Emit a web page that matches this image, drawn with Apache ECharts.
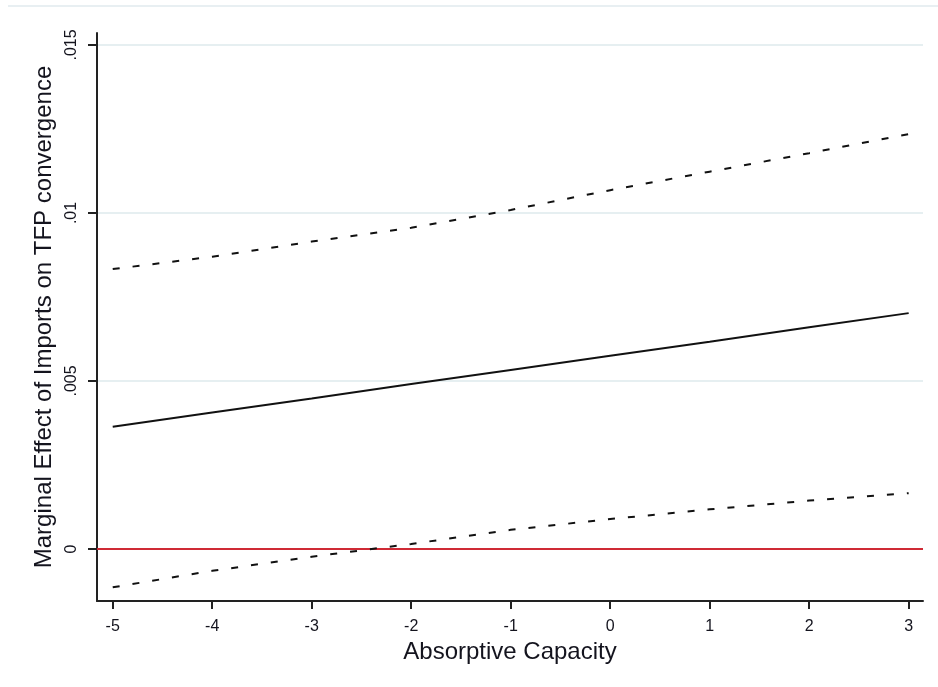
<!DOCTYPE html>
<html>
<head>
<meta charset="utf-8">
<script src="https://cdn.jsdelivr.net/npm/echarts@6.0.0/dist/echarts.min.js"></script>
<style>
html,body{margin:0;padding:0;background:#fff;}
#chart{width:938px;height:687px;}
</style>
</head>
<body>
<div id="chart"></div>
<script>
// Data
const xValues = [-5, -4, -3, -2, -1, 0, 1, 2, 3];
const marginalEffect = [0.00364, 0.00406, 0.00448, 0.00491, 0.00533, 0.00575, 0.00617, 0.00660, 0.00702];
const upperCI = [0.00833, 0.00870, 0.00915, 0.00956, 0.01009, 0.01068, 0.01123, 0.01178, 0.01235];
const lowerCI = [-0.00114, -0.00065, -0.00023, 0.00015, 0.00057, 0.00089, 0.00118, 0.00144, 0.00166];
const xTickValues = [-5, -4, -3, -2, -1, 0, 1, 2, 3];
const xTickLabels = ['-5', '-4', '-3', '-2', '-1', '0', '1', '2', '3'];
const yTickValues = [0, 0.005, 0.01, 0.015];
const yTickLabels = ['0', '.005', '.01', '.015'];
const xTitle = 'Absorptive Capacity';
const yTitle = 'Marginal Effect of Imports on TFP convergence';

const FONT = "'Liberation Sans', Arial, sans-serif";
const TEXT = '#14141e';

function lookup(vals, labels) {
  return function (v) {
    const i = vals.findIndex(t => Math.abs(t - v) < 1e-9);
    return i >= 0 ? labels[i] : '';
  };
}
function pairs(ys) { return xValues.map((x, i) => [x, ys[i]]); }

const chart = echarts.init(document.getElementById('chart'), null, {renderer: 'canvas'});
chart.setOption({
  animation: false,
  backgroundColor: '#ffffff',
  graphic: [{
    type: 'line',
    shape: {x1: 8, y1: 6, x2: 938, y2: 6},
    style: {stroke: '#e8eff2', lineWidth: 2},
    silent: true
  }],
  grid: {left: 97, right: 15, top: 33, bottom: 86, containLabel: false},
  xAxis: {
    type: 'value',
    min: -5.158,
    max: 3.144,
    name: xTitle,
    nameLocation: 'middle',
    nameGap: 31,
    nameTextStyle: {fontFamily: FONT, fontSize: 24, color: TEXT},
    axisLine: {show: true, onZero: false, lineStyle: {color: '#222', width: 2}},
    axisTick: {show: true, customValues: xTickValues, length: 8, lineStyle: {color: '#222', width: 2}},
    axisLabel: {customValues: xTickValues, formatter: lookup(xTickValues, xTickLabels),
      fontFamily: FONT, fontSize: 16, color: TEXT, margin: 18},
    splitLine: {show: false}
  },
  yAxis: {
    type: 'value',
    min: -0.001548,
    max: 0.015357,
    name: yTitle,
    nameLocation: 'middle',
    nameRotate: 90,
    nameGap: 36,
    nameTextStyle: {fontFamily: FONT, fontSize: 24, color: TEXT},
    axisLine: {show: true, onZero: false, lineStyle: {color: '#222', width: 2}},
    axisTick: {show: true, customValues: yTickValues, length: 9, lineStyle: {color: '#222', width: 2}},
    axisLabel: {customValues: yTickValues, formatter: lookup(yTickValues, yTickLabels), rotate: 90,
      fontFamily: FONT, fontSize: 16, color: TEXT, margin: 17},
    splitLine: {show: true, lineStyle: {color: '#e6eff1', width: 2}}
  },
  series: [
    {
      type: 'line',
      data: pairs(upperCI),
      symbol: 'none',
      lineStyle: {color: '#111', width: 2, type: [7, 13]},
      z: 3
    },
    {
      type: 'line',
      data: pairs(marginalEffect),
      symbol: 'none',
      lineStyle: {color: '#111', width: 2, type: 'solid'},
      z: 3,
      markLine: {
        silent: true,
        symbol: ['none', 'none'],
        label: {show: false},
        lineStyle: {color: '#cf2a35', width: 2, type: 'solid'},
        data: [{yAxis: 0}],
        z: 2
      }
    },
    {
      type: 'line',
      data: pairs(lowerCI),
      symbol: 'none',
      lineStyle: {color: '#111', width: 2, type: [7, 13]},
      z: 4
    }
  ]
});
</script>
</body>
</html>
